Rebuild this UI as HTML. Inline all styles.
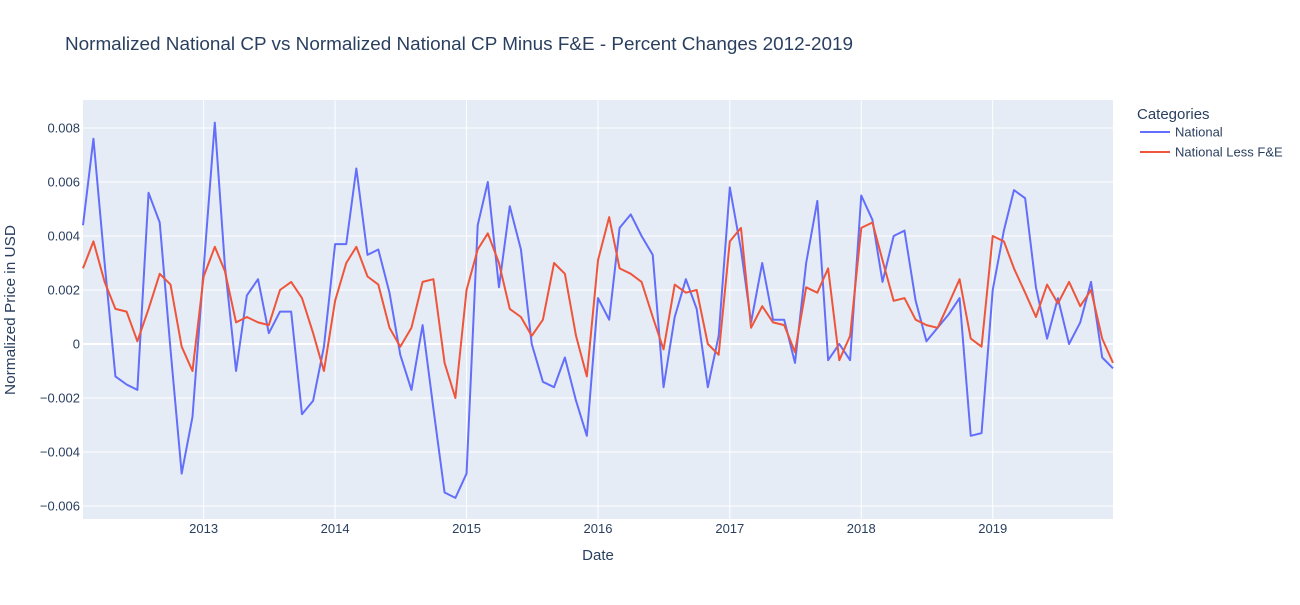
<!DOCTYPE html>
<html><head><meta charset="utf-8">
<style>
body{margin:0;background:#fff;}
svg{font-family:"Liberation Sans",Arial,sans-serif;}
</style></head>
<body>
<svg id="chart" width="1300" height="600" xmlns="http://www.w3.org/2000/svg">
<rect width="1300" height="600" fill="#fff"/>
<text x="65" y="50" font-size="18" textLength="788" lengthAdjust="spacingAndGlyphs" fill="#2a3f5f">Normalized National CP vs Normalized National CP Minus F&amp;E - Percent Changes 2012-2019</text>
<rect x="83" y="100" width="1030" height="419" fill="#e5ecf6"/>
<g id="grid"></g>
<g id="series"></g>
<g id="ticks"></g>
<text x="598" y="560" font-size="15" fill="#2a3f5f" text-anchor="middle">Date</text>
<text transform="translate(15,310) rotate(-90)" font-size="15" textLength="170" lengthAdjust="spacingAndGlyphs" fill="#2a3f5f" text-anchor="middle">Normalized Price in USD</text>
<g>
<text x="1137" y="119" font-size="15" fill="#2a3f5f">Categories</text>
<g>
<line x1="1140" y1="132" x2="1170" y2="132" stroke="#636efa" stroke-width="2"/>
<text x="1175" y="136.5" font-size="13" fill="#2a3f5f">National</text></g>
<g>
<line x1="1140" y1="152" x2="1170" y2="152" stroke="#ef553b" stroke-width="2"/>
<text x="1175" y="156.5" font-size="13" fill="#2a3f5f">National Less F&amp;E</text></g>
</g>
</svg>
<script>
const startYear = 2012, startMonth = 2;
const national = [
0.0044,0.0076,0.0030,-0.0012,-0.0015,-0.0017,0.0056,0.0045,-0.0002,-0.0048,-0.0027,
0.0028,0.0082,0.0029,-0.0010,0.0018,0.0024,0.0004,0.0012,0.0012,-0.0026,-0.0021,-0.0001,
0.0037,0.0037,0.0065,0.0033,0.0035,0.0019,-0.0004,-0.0017,0.0007,-0.0024,-0.0055,-0.0057,
-0.0048,0.0044,0.0060,0.0021,0.0051,0.0035,0.0000,-0.0014,-0.0016,-0.0005,-0.0021,-0.0034,
0.0017,0.0009,0.0043,0.0048,0.0040,0.0033,-0.0016,0.0010,0.0024,0.0013,-0.0016,0.0003,
0.0058,0.0035,0.0008,0.0030,0.0009,0.0009,-0.0007,0.0030,0.0053,-0.0006,0.0000,-0.0006,
0.0055,0.0046,0.0023,0.0040,0.0042,0.0016,0.0001,0.0006,0.0011,0.0017,-0.0034,-0.0033,
0.0020,0.0042,0.0057,0.0054,0.0021,0.0002,0.0017,0.0000,0.0008,0.0023,-0.0005,-0.0009];
const nationalLessFE = [
0.0028,0.0038,0.0023,0.0013,0.0012,0.0001,0.0013,0.0026,0.0022,-0.0001,-0.0010,
0.0025,0.0036,0.0027,0.0008,0.0010,0.0008,0.0007,0.0020,0.0023,0.0017,0.0004,-0.0010,
0.0016,0.0030,0.0036,0.0025,0.0022,0.0006,-0.0001,0.0006,0.0023,0.0024,-0.0007,-0.0020,
0.0020,0.0035,0.0041,0.0030,0.0013,0.0010,0.0003,0.0009,0.0030,0.0026,0.0003,-0.0012,
0.0031,0.0047,0.0028,0.0026,0.0023,0.0010,-0.0002,0.0022,0.0019,0.0020,0.0000,-0.0004,
0.0038,0.0043,0.0006,0.0014,0.0008,0.0007,-0.0003,0.0021,0.0019,0.0028,-0.0006,0.0003,
0.0043,0.0045,0.0031,0.0016,0.0017,0.0009,0.0007,0.0006,0.0015,0.0024,0.0002,-0.0001,
0.0040,0.0038,0.0028,0.0019,0.0010,0.0022,0.0015,0.0023,0.0014,0.0020,0.0002,-0.0007];
const yTicks = [-0.006,-0.004,-0.002,0,0.002,0.004,0.006,0.008];
const yTickLabels = ["−0.006","−0.004","−0.002","0","0.002","0.004","0.006","0.008"];
const xTickYears = [2013,2014,2015,2016,2017,2018,2019];

const NS="http://www.w3.org/2000/svg";
const t0=Date.UTC(2012,1,1), t1=Date.UTC(2019,11,1);
function xs(t){return 83+(t-t0)/(t1-t0)*1030;}
function ys(v){return 344-v*27000;}
function dateOf(i){const m=startMonth-1+i;return Date.UTC(startYear+Math.floor(m/12),m%12,1);}
function mk(tag,attrs,parent){const e=document.createElementNS(NS,tag);for(const k in attrs)e.setAttribute(k,attrs[k]);parent.appendChild(e);return e;}
const grid=document.getElementById('grid'),ticks=document.getElementById('ticks'),series=document.getElementById('series');
yTicks.forEach((v,i)=>{
  const l=mk('line',{x1:83,x2:1113,y1:ys(v),y2:ys(v),stroke:'#fff','stroke-width':v===0?2:1},grid);
  
  
  const t=mk('text',{x:80,y:ys(v)+4.5,'font-size':13,fill:'#2a3f5f','text-anchor':'end'},ticks);
  t.textContent=yTickLabels[i];
  
  
});
xTickYears.forEach(yr=>{
  const x=xs(Date.UTC(yr,0,1));
  const l=mk('line',{x1:x,x2:x,y1:100,y2:519,stroke:'#fff','stroke-width':1},grid);
  
  
  const t=mk('text',{x:x,y:533,'font-size':13,fill:'#2a3f5f','text-anchor':'middle'},ticks);
  t.textContent=String(yr);
  
  
});
function drawLine(vals,color,name){
  const d=vals.map((v,i)=>(i?'L':'M')+xs(dateOf(i)).toFixed(2)+','+ys(v).toFixed(2)).join(' ');
  const p=mk('path',{d:d,fill:'none',stroke:color,'stroke-width':2,'stroke-linejoin':'round'},series);
  
  
}
drawLine(national,'#636efa','national-line');
drawLine(nationalLessFE,'#ef553b','national-less-fe-line');
</script>
</body></html>
